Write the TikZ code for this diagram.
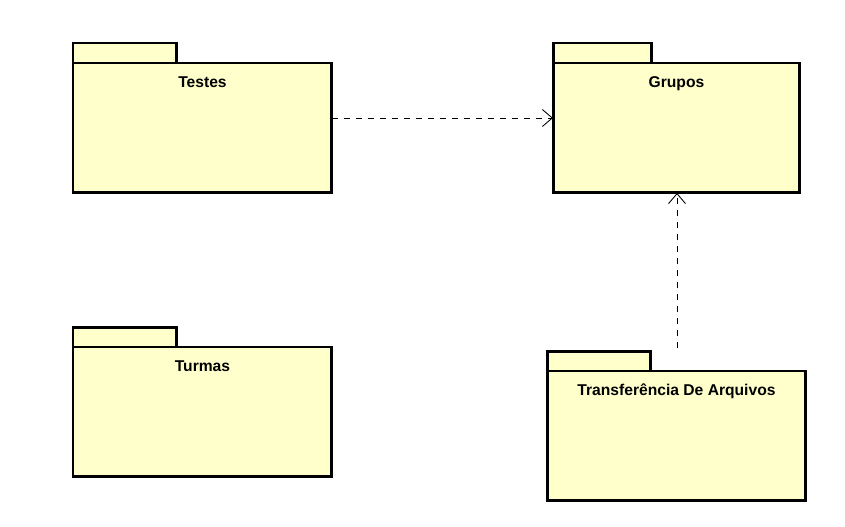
\documentclass[tikz,border=0pt]{standalone}
\usepackage{fontspec}
\setmainfont{Liberation Sans}
\usepackage{tikz}
\usetikzlibrary{arrows.meta}
\usetikzlibrary{positioning}
\definecolor{pkgfill}{RGB}{255,255,204}
\tikzset{
    pkg body/.style={
        draw,
        fill=pkgfill,
        line width=1.7pt,
        outer sep=0pt,
        inner sep=0pt,
        minimum height=2.6cm
    },
    pkg tab/.style={
        draw,
        fill=pkgfill,
        line width=1.7pt,
        outer sep=0pt,
        inner sep=0pt,
        minimum height=0.4cm,
        anchor=south west
    },
    pkg name/.style={
        font=\bfseries\fontsize{8.9}{10}\selectfont,
        inner sep=0pt,
        anchor=north
    },
    dep/.style={
        dash pattern=on 0.12cm off 0.12cm,
        line width=0.5pt,
        -{Straight Barb[length=2mm,width=3.4mm]}
    }
}
\begin{document}
\begin{tikzpicture}[x=0.02cm,y=-0.02cm]
            \useasboundingbox[fill=white] (0,0) rectangle (845,527);
            % packages
            \node[pkg body, minimum width=5.18cm, anchor=north west] (testes) at (73,63) {};
            \node[pkg tab, minimum width=2.08cm] (testes tab) at (testes.north west) {};
            \node[pkg name, below=0.27cm of testes.north] {Testes};

            \node[pkg body, minimum width=4.94cm, anchor=north west] (grupos) at (553,63) {};
            \node[pkg tab, minimum width=1.98cm] (grupos tab) at (grupos.north west) {};
            \node[pkg name, below=0.27cm of grupos.north] {Grupos};

            \node[pkg body, minimum width=5.18cm, anchor=north west] (turmas) at (73,347) {};
            \node[pkg tab, minimum width=2.08cm] (turmas tab) at (turmas.north west) {};
            \node[pkg name, below=0.27cm of turmas.north] {Turmas};

            \node[pkg body, minimum width=5.18cm, anchor=north west] (transf) at (547,371) {};
            \node[pkg tab, minimum width=2.08cm] (transf tab) at (transf.north west) {};
            \node[pkg name, below=0.24cm of transf.north] {Transferência De Arquivos};

            % dependencies
            \draw[dep] (testes.east |- 0,118) -- (grupos.west |- 0,118);
            \draw[dep] ([yshift=0.46cm]transf.north -| 677,0) -- (grupos.south -| 677,0);
\end{tikzpicture}
\end{document}
